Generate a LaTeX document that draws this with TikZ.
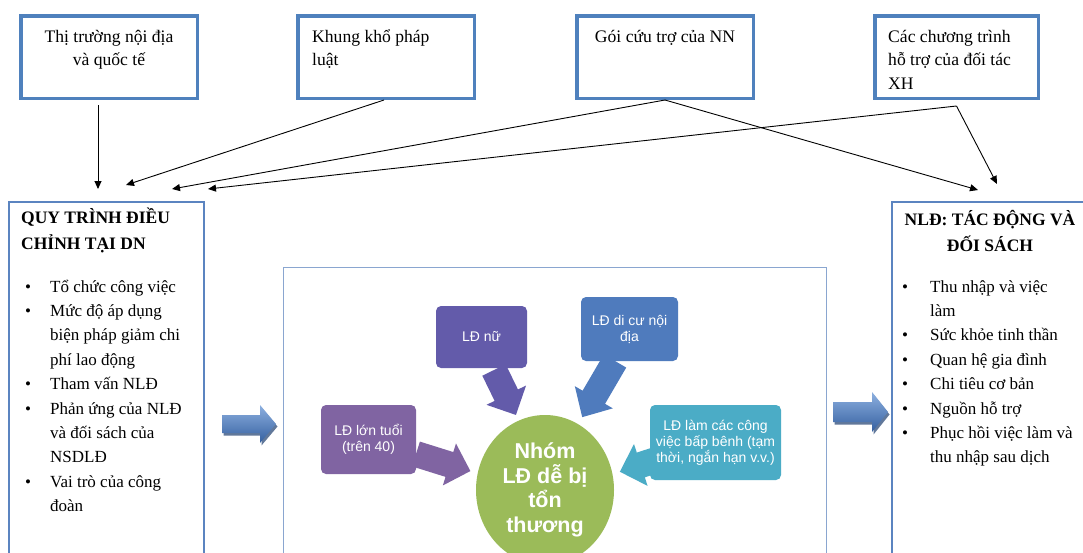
\documentclass[tikz,border=0pt]{standalone}
\usepackage{fontspec}
\setmainfont{Liberation Serif}
\newfontfamily\arialf{Liberation Sans}
\usetikzlibrary{arrows.meta,calc,shapes.geometric}
\definecolor{topblue}{HTML}{4F81BD}
\definecolor{sideblue}{HTML}{5B84C0}
\definecolor{midframe}{HTML}{8AA6D0}
\definecolor{cpurple}{HTML}{8064A2}
\definecolor{cviolet}{HTML}{635BAA}
\definecolor{cblue}{HTML}{4F7BBD}
\definecolor{caqua}{HTML}{4BACC6}
\definecolor{cgreen}{HTML}{9BBB59}
\definecolor{arrlight}{HTML}{8DB0E0}
\definecolor{arrmid}{HTML}{5585C8}
\definecolor{arrdark}{HTML}{3560A0}
\definecolor{arrshadow}{HTML}{1F3F70}
% block arrow: tail x, tail y, angle, length, shaft half, head half, head length, style
\newcommand\blkarr[8]{%
  \fill[#8, shift={(#1,#2)}, rotate=#3] (0,-#5) -- ({#4-#7},-#5) -- ({#4-#7},-#6) -- (#4,0) -- ({#4-#7},#6) -- ({#4-#7},#5) -- (0,#5) -- cycle;}
\begin{document}
\begin{tikzpicture}[x=1pt,y=-1pt,
  topbox/.style={draw=topblue, line width=3.5pt, minimum width=176.5pt, minimum height=82.5pt, inner sep=0pt},
  sidebox/.style={draw=sideblue, line width=1.6pt, inner sep=0pt, anchor=north west},
  conn/.style={-{Triangle[length=8pt,width=7pt]}, line width=0.9pt},
  txt/.style={inner sep=0pt, font=\fontsize{17.6}{23.5}\selectfont},
  lst/.style={inner sep=0pt, font=\fontsize{17}{24.4}\selectfont},
  ttl/.style={inner sep=0pt, font=\bfseries\fontsize{17.5}{26}\selectfont},
  vbox/.style={rounded corners=5pt, inner sep=0pt, text=white, align=center, font=\arialf\fontsize{14}{16}\selectfont}]
\useasboundingbox (0,0) rectangle (1083,552);
\clip (0,0) rectangle (1083,552);
\fill[white] (0,0) rectangle (1083,552);

% top boxes
\node[topbox] (b1) at (109,57) {};
\node[topbox] (b2) at (386,57) {};
\node[topbox] (b3) at (665,57) {};
\node[topbox, minimum width=163.5pt] (b4) at (956.5,57) {};
\node[txt, anchor=base] (b1t) at (109,42) {\parbox[t]{176pt}{\centering Thị trường nội địa\\và quốc tế}};
\node[txt, anchor=base west] (b2t) at (312,42) {\parbox[t]{160pt}{\raggedright Khung khổ pháp\\luật}};
\node[txt, anchor=base] (b3t) at (665,42) {\parbox[t]{176pt}{\centering Gói cứu trợ của NN}};
\node[txt, anchor=base west] (b4t) at (888,42) {\parbox[t]{150pt}{\raggedright Các chương trình\\hỗ trợ của đối tác\\XH}};

% connector ends
\coordinate (e1) at (98,189);
\coordinate (e2) at (126,185);
\coordinate (e3) at (172,189);
\coordinate (e4) at (978,190);
\coordinate (e5) at (208,189);
\coordinate (e6) at (997,184);
\draw[conn] ($(b1.south)+(-11,5)$) -- (e1);
\draw[conn] ($(b2.south)+(-2,0)$) -- (e2);
\draw[conn] (b3.south) -- (e3);
\draw[conn] (b3.south) -- (e4);
\draw[conn] ($(b4.south)+(0,6)$) -- (e5);
\draw[conn] ($(b4.south)+(0,6)$) -- (e6);

% side boxes
\node[sidebox, minimum width=195pt, minimum height=400pt] (lbox) at (8,201) {};
\node[sidebox, minimum width=210pt, minimum height=400pt] (rbox) at (891,201) {};
\node[draw=midframe, line width=1.1pt, inner sep=0pt, anchor=north west, minimum width=543pt, minimum height=330pt] (mbox) at (283,267) {};

% titles
\node[ttl, anchor=base west] (ltitle) at (21,223) {\parbox[t]{180pt}{\raggedright QUY TRÌNH ĐIỀU\\CHỈNH TẠI DN}};
\node[ttl, anchor=base] (rtitle) at (990,225) {\parbox[t]{200pt}{\centering NLĐ: TÁC ĐỘNG VÀ\\ĐỐI SÁCH}};

% lists
\node[lst, anchor=base west] (llist) at (25,292) {\begin{tabular}[t]{@{}p{25pt}@{}l@{}}
• & Tổ chức công việc\\
• & Mức độ áp dụng\\
  & biện pháp giảm chi\\
  & phí lao động\\
• & Tham vấn NLĐ\\
• & Phản ứng của NLĐ\\
  & và đối sách của\\
  & NSDLĐ\\
• & Vai trò của công\\
  & đoàn
\end{tabular}};
\node[lst, anchor=base west] (rlist) at (902,292) {\begin{tabular}[t]{@{}p{28pt}@{}l@{}}
• & Thu nhập và việc\\
  & làm\\
• & Sức khỏe tinh thần\\
• & Quan hệ gia đình\\
• & Chi tiêu cơ bản\\
• & Nguồn hỗ trợ\\
• & Phục hồi việc làm và\\
  & thu nhập sau dịch
\end{tabular}};

% big blue block arrows
\fill[arrshadow, opacity=0.7, shift={(1.5,2.5)}] (222,415) -- (260,415) -- (260,405) -- (276,424) -- (260,443) -- (260,433) -- (222,433) -- cycle;
\shade[top color=arrlight, middle color=arrmid, bottom color=arrdark] (222,415) -- (260,415) -- (260,405) -- (276,424) -- (260,443) -- (260,433) -- (222,433) -- cycle;
\fill[arrshadow, opacity=0.7, shift={(1.5,2.5)}] (833,402) -- (872,402) -- (872,392) -- (888,412) -- (872,432) -- (872,422) -- (833,422) -- cycle;
\shade[top color=arrlight, middle color=arrmid, bottom color=arrdark] (833,402) -- (872,402) -- (872,392) -- (888,412) -- (872,432) -- (872,422) -- (833,422) -- cycle;

% central circle
\node[ellipse, fill=cgreen, minimum width=138pt, minimum height=150pt, inner sep=0pt] (core) at (545,490) {};

% small block arrows
\blkarr{416}{454}{-17.4}{57}{13}{22}{22}{cpurple}
\blkarr{494}{370}{-64}{50}{13}{22}{22}{cviolet}
\blkarr{615}{361}{-120.3}{65}{13}{22}{23}{cblue}
\blkarr{656}{460}{-162}{38}{13}{22}{22}{caqua}

% group boxes
\node[vbox, fill=cpurple, minimum width=95pt, minimum height=69pt] (vold) at (368.5,439.5) {LĐ lớn tuổi\\(trên 40)};
\node[vbox, fill=cviolet, minimum width=91pt, minimum height=62pt] (vfem) at (481.5,337) {LĐ nữ};
\node[vbox, fill=cblue, minimum width=97pt, minimum height=64pt] (vmig) at (629.5,329) {LĐ di cư nội\\địa};
\node[vbox, fill=caqua, minimum width=131pt, minimum height=75pt] (vpre) at (715.5,442.5) {LĐ làm các công\\việc bấp bênh (tạm\\thời, ngắn hạn v.v.)};

\node[inner sep=0pt, text=white, align=center, font=\arialf\bfseries\fontsize{21.5}{24.5}\selectfont] (coretext) at (545,490) {Nhóm\\LĐ dễ bị\\tổn\\thương};
\end{tikzpicture}
\end{document}
